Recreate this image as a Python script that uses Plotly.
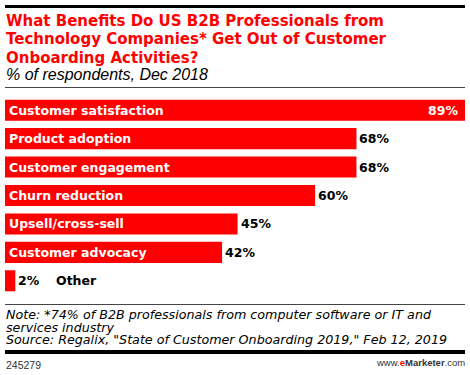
import plotly.graph_objects as go

categories = ["Customer satisfaction", "Product adoption", "Customer engagement",
              "Churn reduction", "Upsell/cross-sell", "Customer advocacy", "Other"]
values = [89, 68, 68, 60, 45, 42, 2]
value_labels = ["89%", "68%", "68%", "60%", "45%", "42%", "2%"]

title_lines = ["What Benefits Do US B2B Professionals from",
               "Technology Companies* Get Out of Customer",
               "Onboarding Activities?"]
subtitle = "% of respondents, Dec 2018"
note_lines = ["Note: *74% of B2B professionals from computer software or IT and",
              "services industry",
              "Source: Regalix, \"State of Customer Onboarding 2019,\" Feb 12, 2019"]
chart_id = "245279"

W, H = 470, 375
PL, PR, PT, PB = 5, 465, 96, 295  # plot area in pixels

def px_x(x):
    return (x - PL) / (PR - PL)

def px_y(y):
    return (PB - y) / (PB - PT)

RED = "#ff0000"
BOLD = "DejaVu Sans"
ITAL = "Liberation Sans"

fig = go.Figure()
fig.add_trace(go.Bar(
    x=values, y=categories, orientation="h",
    marker=dict(color=RED, line=dict(width=0)),
    hoverinfo="skip",
))

ann = []
for i, (c, v, lab) in enumerate(zip(categories, values, value_labels)):
    if c != "Other":
        ann.append(dict(x=0, y=c, xref="x", yref="y", text="<b>%s</b>" % c,
                        xanchor="left", yanchor="middle", xshift=2, showarrow=False,
                        font=dict(family=BOLD, size=12.5, color="white")))
    if i == 0:
        ann.append(dict(x=v, y=c, xref="x", yref="y", text="<b>%s</b>" % lab,
                        xanchor="right", yanchor="middle", xshift=-5, showarrow=False,
                        font=dict(family=BOLD, size=12.5, color="white")))
    else:
        ann.append(dict(x=v, y=c, xref="x", yref="y", text="<b>%s</b>" % lab,
                        xanchor="left", yanchor="middle", xshift=1, showarrow=False,
                        font=dict(family=BOLD, size=12.5, color="black")))
    if c == "Other":
        ann.append(dict(x=v, y=c, xref="x", yref="y", text="<b>%s</b>" % c,
                        xanchor="left", yanchor="middle", xshift=39, showarrow=False,
                        font=dict(family=BOLD, size=12.5, color="black")))

def text_at(x, y, txt, family, size, color="black", xanchor="left"):
    ann.append(dict(x=px_x(x), y=px_y(y), xref="paper", yref="paper", text=txt,
                    xanchor=xanchor, yanchor="middle", showarrow=False,
                    font=dict(family=family, size=size, color=color)))

for k, line in enumerate(title_lines):
    text_at(4, 20.5 + 18.6 * k, "<b>%s</b>" % line, BOLD, 15, RED)
text_at(4, 74, "<i>%s</i>" % subtitle, ITAL, 16)
for k, line in enumerate(note_lines):
    text_at(4, 314.8 + 12.3 * k, "<i>%s</i>" % line, BOLD, 12.7)
text_at(4, 364.5, chart_id, "Liberation Sans", 10.5, "#333333")
text_at(467, 362.5, "www.<b><span style='color:#ff0000'>e</span>Marketer</b>.com",
        "Liberation Sans", 9.5, "#333333", xanchor="right")

shapes = [
    dict(type="line", xref="paper", yref="paper", x0=px_x(5), x1=px_x(465),
         y0=px_y(6.5), y1=px_y(6.5), line=dict(color="black", width=3)),
    dict(type="line", xref="paper", yref="paper", x0=px_x(5), x1=px_x(465),
         y0=px_y(87.5), y1=px_y(87.5), line=dict(color="#444444", width=1)),
    dict(type="line", xref="paper", yref="paper", x0=px_x(5), x1=px_x(465),
         y0=px_y(304.5), y1=px_y(304.5), line=dict(color="#444444", width=1)),
    dict(type="line", xref="paper", yref="paper", x0=px_x(5), x1=px_x(465),
         y0=px_y(352), y1=px_y(352), line=dict(color="black", width=4)),
]

fig.update_layout(
    width=W, height=H,
    margin=dict(l=PL, r=W - PR, t=PT, b=H - PB, pad=0),
    paper_bgcolor="white", plot_bgcolor="white",
    bargap=0.26, showlegend=False,
    xaxis=dict(range=[0, 89], visible=False, fixedrange=True),
    yaxis=dict(autorange="reversed", visible=False, fixedrange=True),
    annotations=ann, shapes=shapes,
)

fig.write_html("out.html", config={"displayModeBar": False},
               post_script="document.body.style.margin='0';document.body.style.overflow='hidden';")
